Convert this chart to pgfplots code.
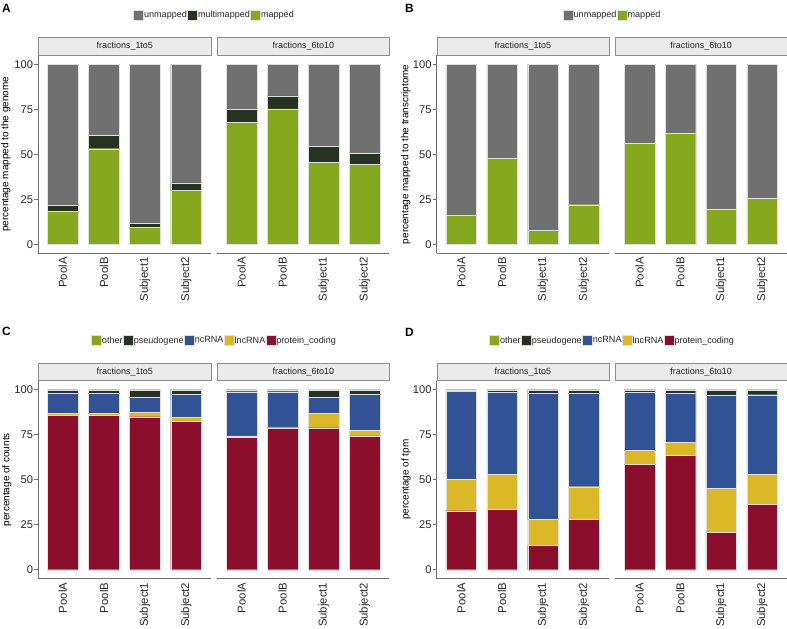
\documentclass[border=0pt]{standalone}
\usepackage{pgfplots}
\pgfplotsset{compat=1.18}
\usepackage{pgfplotstable}
\usepackage{fontspec}
\setmainfont{Liberation Sans}
\definecolor{cUn}{HTML}{707070}
\definecolor{cMulti}{HTML}{283220}
\definecolor{cMap}{HTML}{86A81E}
\definecolor{cNc}{HTML}{315294}
\definecolor{cLnc}{HTML}{DBB827}
\definecolor{cPc}{HTML}{8B0F2D}
\definecolor{axgray}{HTML}{707070}

% Panel A: genome
\pgfplotstableread{
x map multi un
1 18.5 3.0 78.5
2 53.1 7.8 39.1
3 9.3 2.4 88.3
4 30.0 4.1 65.9
}\tAL
\pgfplotstableread{
x map multi un
1 67.6 7.4 25.0
2 75.2 7.2 17.6
3 45.4 9.0 45.6
4 44.3 6.6 49.1
}\tAR
% Panel B: transcriptome
\pgfplotstableread{
x map un
1 16.3 83.7
2 48.0 52.0
3 8.0 92.0
4 22.0 78.0
}\tBL
\pgfplotstableread{
x map un
1 56.3 43.7
2 61.7 38.3
3 19.6 80.4
4 25.7 74.3
}\tBR
% Panel C: counts
\pgfplotstableread{
x pc lnc nc pseudo other
1 85.6 1.3 11.1 1.9 0.1
2 85.9 1.0 11.1 1.9 0.1
3 85.0 2.6 8.1 4.2 0.1
4 82.4 2.3 12.7 2.5 0.1
}\tCL
\pgfplotstableread{
x pc lnc nc pseudo other
1 73.7 0.6 24.6 1.0 0.1
2 78.9 0.4 19.6 1.0 0.1
3 78.9 8.0 8.8 4.0 0.3
4 74.4 3.2 20.0 2.3 0.1
}\tCR
% Panel D: tpm
\pgfplotstableread{
x pc lnc nc pseudo other
1 32.8 17.4 48.9 0.8 0.1
2 33.5 19.5 45.5 1.4 0.1
3 13.7 14.3 70.0 1.9 0.1
4 28.0 18.1 51.9 1.9 0.1
}\tDL
\pgfplotstableread{
x pc lnc nc pseudo other
1 58.7 7.6 32.2 1.4 0.1
2 63.7 7.2 27.1 1.9 0.1
3 20.9 24.3 51.7 3.0 0.1
4 36.5 16.5 44.2 2.7 0.1
}\tDR

\pgfplotsset{
  lkey/.style={legend image code/.code={\fill[##1] (0bp,-5bp) rectangle (10bp,5bp);}},
  facet/.style={
    width=#1, height=198bp, scale only axis, anchor=north west,
    ybar stacked, bar width=0.75,
    xmin=0.4, xmax=4.6, ymin=-5, ymax=105,
    xtick={1,2,3,4}, xticklabels={PoolA,PoolB,Subject1,Subject2},
    ytick={0,25,50,75,100},
    axis x line*=bottom, axis y line*=left,
    axis line style={draw=axgray, line width=0.8bp},
    tick align=outside, major tick length=3.8bp,
    ytick style={draw=axgray, line width=0.8bp},
    xtick style={draw=none},
    /pgf/number format/assume math mode=true,
    tick label style={font=\fontsize{11.2}{13}\selectfont, text=black!85},
    xticklabel style={rotate=90, anchor=east, inner sep=0pt, font=\fontsize{11.4}{13}\selectfont},
    yticklabel style={inner xsep=1.2bp},
    every axis plot/.append style={draw=white!75!gray, line width=0.3bp},
    legend columns=-1,
    legend style={draw=none, fill=none, anchor=center,
      font=\fontsize{9.1}{10}\selectfont, text=black!85,
      inner sep=0pt, nodes={inner sep=0.4bp}, /tikz/column sep=0pt},
    ylabel style={font=\fontsize{10}{12}\selectfont, text=black!90},
  },
  rightfacet/.style={facet=#1, hide y axis},
}
\tikzset{
  strip/.style={draw=black!45, fill=black!8, line width=0.6bp, inner sep=0pt,
    minimum height=17.3bp, anchor=south west, font=\fontsize{9}{10}\selectfont, text=black!85},
  letter/.style={anchor=west, inner sep=0pt, font=\fontsize{12}{14}\selectfont\bfseries},
}

\begin{document}
\begin{tikzpicture}
\useasboundingbox (0bp,0bp) rectangle (787bp,-629bp);

% ---------------- Panel A ----------------
\begin{axis}[facet=172.4bp, name=aL, at={(38.3bp,-55.3bp)},
  ylabel={percentage mapped to the genome},
  every axis y label/.style={at={(axis description cs:-0.188,0.5)}, rotate=90, anchor=center},
  legend style={at={(axis description cs:1.018,1.2035)}}]
\addlegendimage{lkey, fill=cUn}\addlegendentry{unmapped}
\addlegendimage{lkey, fill=cMulti}\addlegendentry{multimapped}
\addlegendimage{lkey, fill=cMap}\addlegendentry{mapped}
\addplot[fill=cMap] table[x=x,y=map]{\tAL};
\addplot[fill=cMulti] table[x=x,y=multi]{\tAL};
\addplot[fill=cUn] table[x=x,y=un]{\tAL};
\end{axis}
\begin{axis}[rightfacet=172.4bp, name=aR, at={(216.9bp,-55.3bp)}]
\addplot[fill=cMap] table[x=x,y=map]{\tAR};
\addplot[fill=cMulti] table[x=x,y=multi]{\tAR};
\addplot[fill=cUn] table[x=x,y=un]{\tAR};
\end{axis}
\node[strip, minimum width=172.4bp] at (aL.north west) {fractions\_1to5};
\node[strip, minimum width=172.4bp] at (aR.north west) {fractions\_6to10};
\node[letter] at (2bp,-8bp) {A};

% ---------------- Panel B ----------------
\begin{axis}[facet=171.8bp, name=bL, at={(436.7bp,-55.3bp)},
  ylabel={percentage mapped to the transcriptome},
  every axis y label/.style={at={(axis description cs:-0.180,0.5)}, rotate=90, anchor=center},
  legend style={at={(axis description cs:1.0198,1.2035)}}]
\addlegendimage{lkey, fill=cUn}\addlegendentry{unmapped}
\addlegendimage{lkey, fill=cMap}\addlegendentry{mapped}
\addplot[fill=cMap] table[x=x,y=map]{\tBL};
\addplot[fill=cUn] table[x=x,y=un]{\tBL};
\end{axis}
\begin{axis}[rightfacet=171.8bp, name=bR, at={(614.9bp,-55.3bp)}]
\addplot[fill=cMap] table[x=x,y=map]{\tBR};
\addplot[fill=cUn] table[x=x,y=un]{\tBR};
\end{axis}
\node[strip, minimum width=171.8bp] at (bL.north west) {fractions\_1to5};
\node[strip, minimum width=171.8bp] at (bR.north west) {fractions\_6to10};
\node[letter] at (405bp,-8bp) {B};

% ---------------- Panel C ----------------
\begin{axis}[facet=172.4bp, name=cL, at={(38.3bp,-380.7bp)},
  ylabel={percentage of counts},
  every axis y label/.style={at={(axis description cs:-0.182,0.5)}, rotate=90, anchor=center},
  legend style={at={(axis description cs:1.018,1.203)}}]
\addlegendimage{lkey, fill=cMap}\addlegendentry{other}
\addlegendimage{lkey, fill=cMulti}\addlegendentry{pseudogene}
\addlegendimage{lkey, fill=cNc}\addlegendentry{ncRNA}
\addlegendimage{lkey, fill=cLnc}\addlegendentry{lncRNA}
\addlegendimage{lkey, fill=cPc}\addlegendentry{protein\_coding}
\addplot[fill=cPc] table[x=x,y=pc]{\tCL};
\addplot[fill=cLnc] table[x=x,y=lnc]{\tCL};
\addplot[fill=cNc] table[x=x,y=nc]{\tCL};
\addplot[fill=cMulti] table[x=x,y=pseudo]{\tCL};
\addplot[fill=cMap] table[x=x,y=other]{\tCL};
\end{axis}
\begin{axis}[rightfacet=172.4bp, name=cR, at={(216.9bp,-380.7bp)}]
\addplot[fill=cPc] table[x=x,y=pc]{\tCR};
\addplot[fill=cLnc] table[x=x,y=lnc]{\tCR};
\addplot[fill=cNc] table[x=x,y=nc]{\tCR};
\addplot[fill=cMulti] table[x=x,y=pseudo]{\tCR};
\addplot[fill=cMap] table[x=x,y=other]{\tCR};
\end{axis}
\node[strip, minimum width=172.4bp] at (cL.north west) {fractions\_1to5};
\node[strip, minimum width=172.4bp] at (cR.north west) {fractions\_6to10};
\node[letter] at (2bp,-331.5bp) {C};

% ---------------- Panel D ----------------
\begin{axis}[facet=171.8bp, name=dL, at={(436.7bp,-380.7bp)},
  ylabel={percentage of tpm},
  every axis y label/.style={at={(axis description cs:-0.178,0.5)}, rotate=90, anchor=center},
  legend style={at={(axis description cs:1.0198,1.203)}}]
\addlegendimage{lkey, fill=cMap}\addlegendentry{other}
\addlegendimage{lkey, fill=cMulti}\addlegendentry{pseudogene}
\addlegendimage{lkey, fill=cNc}\addlegendentry{ncRNA}
\addlegendimage{lkey, fill=cLnc}\addlegendentry{lncRNA}
\addlegendimage{lkey, fill=cPc}\addlegendentry{protein\_coding}
\addplot[fill=cPc] table[x=x,y=pc]{\tDL};
\addplot[fill=cLnc] table[x=x,y=lnc]{\tDL};
\addplot[fill=cNc] table[x=x,y=nc]{\tDL};
\addplot[fill=cMulti] table[x=x,y=pseudo]{\tDL};
\addplot[fill=cMap] table[x=x,y=other]{\tDL};
\end{axis}
\begin{axis}[rightfacet=171.8bp, name=dR, at={(614.9bp,-380.7bp)}]
\addplot[fill=cPc] table[x=x,y=pc]{\tDR};
\addplot[fill=cLnc] table[x=x,y=lnc]{\tDR};
\addplot[fill=cNc] table[x=x,y=nc]{\tDR};
\addplot[fill=cMulti] table[x=x,y=pseudo]{\tDR};
\addplot[fill=cMap] table[x=x,y=other]{\tDR};
\end{axis}
\node[strip, minimum width=171.8bp] at (dL.north west) {fractions\_1to5};
\node[strip, minimum width=171.8bp] at (dR.north west) {fractions\_6to10};
\node[letter] at (405bp,-332.5bp) {D};
\end{tikzpicture}
\end{document}
